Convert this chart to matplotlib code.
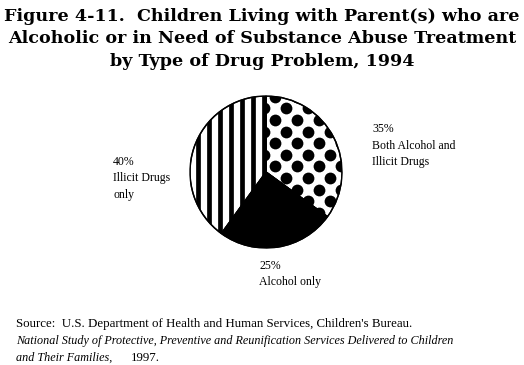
import matplotlib
matplotlib.use('Agg')
import matplotlib.pyplot as plt
from matplotlib.patches import Wedge
import numpy as np

labels = ["Both Alcohol and\nIllicit Drugs", "Alcohol only", "Illicit Drugs\nonly"]
shares = [35, 25, 40]
pcts = ["35%", "25%", "40%"]

W, H = 524, 365
fig = plt.figure(figsize=(W / 100, H / 100), dpi=100)

# pie axes: centre (266,172) px, radius 76 px
r = 76
cx, cy = 266, 172
ax = fig.add_axes([(cx - r) / W, 1 - (cy + r) / H, 2 * r / W, 2 * r / H])
wedges, _ = ax.pie(shares, startangle=90, counterclock=False,
                   colors=["white", "black", "white"],
                   wedgeprops=dict(edgecolor="black", linewidth=1))
ax.set_xlim(-1, 1)
ax.set_ylim(-1, 1)
ax.set_aspect("equal")
u = 1 / r

# vertical stripes for "illicit only"
stripes = ax.vlines(np.arange(-2 * u, -1.05, -11 * u), -1.1, 1.1,
                    colors="black", linewidth=3.4, zorder=3)
stripes.set_clip_path(wedges[2])

# dotted texture for "both"
xs, ys = [], []
for i, yy in enumerate(np.arange(-64 * u, 1.1, 11.6 * u)):
    off = 0 if i % 2 == 0 else 11 * u
    for xx in np.arange(9 * u + off - 22 * u, 1.1, 22 * u):
        xs.append(xx)
        ys.append(yy)
dots = ax.scatter(xs, ys, s=72, c="black", marker="o", linewidths=0, zorder=3)
dots.set_clip_path(wedges[0])
for w in wedges:
    ax.add_patch(Wedge((0, 0), 1, w.theta1, w.theta2, fill=False,
                       edgecolor="black", linewidth=1, zorder=4))

title = ("Figure 4-11.  Children Living with Parent(s) who are\n"
         "Alcoholic or in Need of Substance Abuse Treatment\n"
         "by Type of Drug Problem, 1994")
fig.text(0.5, 1 - 8 / H, title, ha="center", va="top", family="DejaVu Serif",
         weight="bold", fontsize=12.6, linespacing=1.42)

lab_font = dict(family="Liberation Serif", fontsize=8.5, linespacing=1.5, va="top", ha="left")
fig.text(372 / W, 1 - 123 / H, pcts[0] + "\n" + labels[0], **lab_font)
fig.text(259 / W, 1 - 260 / H, pcts[1] + "\n" + labels[1], **lab_font)
fig.text(113 / W, 1 - 156 / H, pcts[2] + "\n" + labels[2], **lab_font)

fig.text(16 / W, 1 - 318 / H,
         "Source:  U.S. Department of Health and Human Services, Children's Bureau.",
         family="Liberation Serif", fontsize=9.3, va="top")
fig.text(16 / W, 1 - 335 / H,
         "National Study of Protective, Preventive and Reunification Services Delivered to Children",
         family="Liberation Serif", style="italic", fontsize=8.7, va="top")
fig.text(16 / W, 1 - 352 / H, "and Their Families,", family="Liberation Serif",
         style="italic", fontsize=8.7, va="top")
fig.text(131 / W, 1 - 352 / H, "1997.", family="Liberation Serif", fontsize=9.3, va="top")

fig.savefig("out.png", dpi=100)
